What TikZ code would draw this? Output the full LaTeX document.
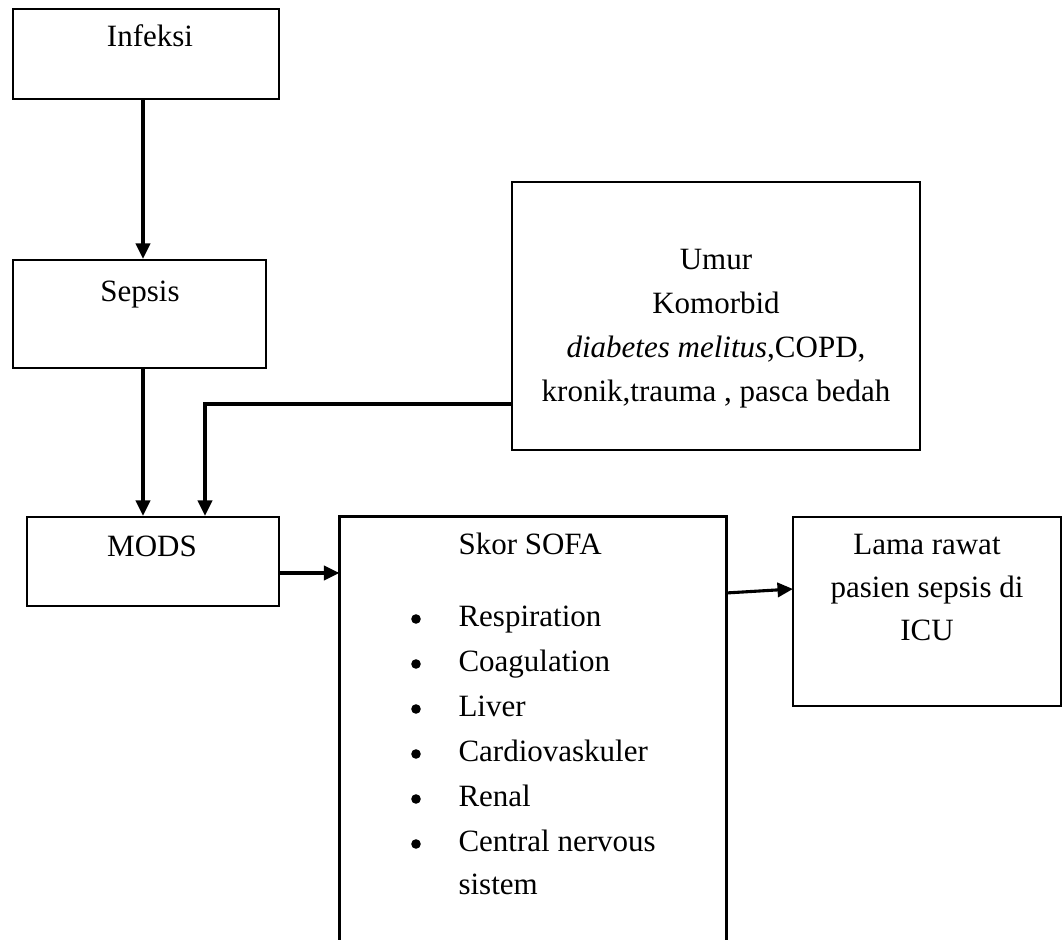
\documentclass[tikz,border=0pt]{standalone}
\usepackage{fontspec}
\setmainfont{Liberation Serif}
\usetikzlibrary{arrows.meta,fit}
\tikzset{
  box/.style={draw, line width=0.8pt, inner sep=0pt},
  arr/.style={line width=1.2pt, -{Triangle[length=6pt,width=5.5pt]}},
  txt/.style={anchor=base, inner sep=0pt, font=\fontsize{12}{13.8}\selectfont},
}
\begin{document}
\begin{tikzpicture}[x=0.3871pt,y=-0.3871pt]
  \useasboundingbox (0,0) rectangle (1063,940);
  % boxes
  \node[box, fit={(13,9) (279,99)}] (infeksi) {};
  \node[box, fit={(13,260) (266,368)}] (sepsis) {};
  \node[box, fit={(27,517) (279,606)}] (mods) {};
  \node[box, fit={(512,182) (920,450)}] (umur) {};
  \node[box, fit={(793,517) (1061,706)}] (lama) {};
  \node[inner sep=0pt, fit={(340,517) (726,950)}] (sofa) {};
  \draw[line width=0.8pt] (sofa.south west) -- (sofa.north west)
     -- (sofa.north east) -- (sofa.south east);
  % texts
  \node[txt] (tinf) at (150,47) {Infeksi};
  \node[txt] (tsep) at (140,302) {Sepsis};
  \node[txt] (tmods) at (152,557) {MODS};
  \node[txt] (tumur) at (716,270) {Umur};
  \node[txt] (tkom) at (716,314) {Komorbid};
  \node[txt] (tdm) at (716,358) {\textit{diabetes melitus},COPD,};
  \node[txt] (tkr) at (716,402) {kronik,trauma , pasca bedah};
  \node[txt, anchor=base west] (tsofa) at (458,555) {Skor SOFA};
  \foreach \t [count=\i from 0] in {Respiration,Coagulation,Liver,Cardiovaskuler,Renal,Central nervous}{
    \fill (416,{619+45*\i}) circle (4.8);
    \node[txt, anchor=base west] (item\i) at (458,{627+45*\i}) {\t};
  }
  \node[txt, anchor=base west] (tsis) at (458,895) {sistem};
  \node[txt] (tlama1) at (927,555) {Lama rawat};
  \node[txt] (tlama2) at (927,598) {pasien sepsis di};
  \node[txt] (tlama3) at (927,641) {ICU};
  % connectors
  \coordinate (c1) at (143,0);
  \coordinate (c2) at (205,0);
  \coordinate (umurout) at (512,404);
  \coordinate (modsout) at (279,573);
  \coordinate (sofaout) at (726,593);
  \coordinate (lamain) at (793,589);
  \draw[arr] (infeksi.south -| c1) -- (sepsis.north -| c1);
  \draw[arr] (sepsis.south -| c1) -- (mods.north -| c1);
  \draw[arr] (umurout) -| (mods.north -| c2);
  \draw[arr] (modsout) -- (modsout -| sofa.west);
  \draw[arr] (sofaout) -- (lamain);
\end{tikzpicture}
\end{document}
